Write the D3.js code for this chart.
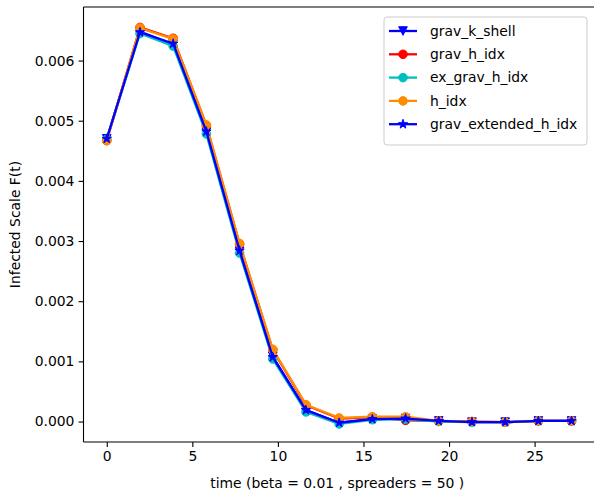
<!DOCTYPE html>
<html>
<head>
<meta charset="utf-8">
<script src="https://cdn.jsdelivr.net/npm/d3@7"></script>
<style>
  html, body { margin: 0; padding: 0; background: #ffffff; }
  svg { display: block; }
  text { font-family: "DejaVu Sans", sans-serif; fill: #000; }
</style>
</head>
<body>
<svg id="chart" width="594" height="495"></svg>
<script>
// Simulation time steps
const times = [0, 1.94, 3.88, 5.82, 7.76, 9.70, 11.64, 13.58, 15.52, 17.46, 19.40, 21.34, 23.28, 25.22, 27.16];

// Infected scale F(t) per ranking method
const gravKShell        = [0.00470, 0.00648, 0.00627, 0.00481, 0.00283, 0.00108, 0.00019, -0.00002, 0.00004, 0.00005, 0.00001, -0.00001, -0.00001, 0.00001, 0.00001];
const gravHIdx          = [0.00467, 0.00655, 0.00637, 0.00492, 0.00295, 0.00119, 0.00027, 0.00005, 0.00007, 0.00002, 0.00001, 0.00000, -0.00001, 0.00001, 0.00001];
const exGravHIdx        = [0.00469, 0.00645, 0.00624, 0.00478, 0.00280, 0.00104, 0.00016, -0.00004, 0.00003, 0.00004, 0.00000, -0.00001, -0.00001, 0.00001, 0.00001];
const hIdx              = [0.00467, 0.00654, 0.00636, 0.00493, 0.00296, 0.00120, 0.00028, 0.00006, 0.00008, 0.00008, 0.00001, 0.00000, -0.00001, 0.00001, 0.00001];
const gravExtendedHIdx  = [0.00470, 0.00647, 0.00628, 0.00482, 0.00284, 0.00107, 0.00019, -0.00002, 0.00004, 0.00005, 0.00001, -0.00001, -0.00001, 0.00001, 0.00001];

const seriesNames = ["grav_k_shell", "grav_h_idx", "ex_grav_h_idx", "h_idx", "grav_extended_h_idx"];
const seriesValues = [gravKShell, gravHIdx, exGravHIdx, hIdx, gravExtendedHIdx];

// Axis ticks and limits
const xTicks = [0, 5, 10, 15, 20, 25];
const yTicks = [0, 0.001, 0.002, 0.003, 0.004, 0.005, 0.006];
const xLimits = [-1.36, 28.53];
const yLimits = [-0.00034, 0.00689];

const xLabel = "time (beta = 0.01 , spreaders = 50 )";
const yLabel = "Infected Scale F(t)";

// Styling
const colors = ["#0000ff", "#ff0000", "#00bfbf", "#ff8c00", "#0000ff"];
const markers = ["triangleDown", "circle", "circle", "circle", "star"];

const svg = d3.select("#chart");
const plot = { left: 83.5, right: 595, top: 7, bottom: 442 };
const fontSize = 13.9;
const lineWidth = 2.3;

const x = d3.scaleLinear().domain(xLimits).range([plot.left, plot.right]);
const y = d3.scaleLinear().domain(yLimits).range([plot.bottom, plot.top]);

// Marker shapes
const triangleDown = {
  draw(ctx, size) {
    const r = Math.sqrt(size) / 2;
    ctx.moveTo(0, r);
    ctx.lineTo(-r, -r);
    ctx.lineTo(r, -r);
    ctx.closePath();
  }
};
function markerPath(kind) {
  if (kind === "circle") return d3.symbol().type(d3.symbolCircle).size(Math.PI * 4.3 * 4.3)();
  if (kind === "star") return d3.symbol().type(d3.symbolStar).size(27)();
  return d3.symbol().type(triangleDown).size(8.6 * 8.6)();
}

// Axes
const xAxis = d3.axisBottom(x).tickValues(xTicks).tickFormat(d3.format("d")).tickSizeOuter(0).tickSize(4.9).tickPadding(4.2);
const yAxis = d3.axisLeft(y).tickValues(yTicks).tickFormat(d3.format(".3f")).tickSizeOuter(0).tickSize(4.9).tickPadding(4.2);

const gx = svg.append("g").attr("transform", `translate(0,${plot.bottom})`).call(xAxis);
const gy = svg.append("g").attr("transform", `translate(${plot.left},0)`).call(yAxis);
[gx, gy].forEach(g => {
  g.select(".domain").remove();
  g.selectAll(".tick line").attr("stroke", "#000").attr("stroke-width", 1.1);
  g.selectAll(".tick text").attr("font-size", fontSize).attr("font-family", "DejaVu Sans").attr("fill", "#000");
});

// Series: line then markers, drawn in order
const line = d3.line().x((d, i) => x(times[i])).y(d => y(d));

const seriesLayer = svg.append("g");
seriesValues.forEach((vals, s) => {
  const g = seriesLayer.append("g");
  g.append("path").datum(vals)
    .attr("d", line)
    .attr("fill", "none")
    .attr("stroke", colors[s])
    .attr("stroke-width", lineWidth)
    .attr("stroke-linejoin", "round")
    .attr("stroke-linecap", "square");
  const mp = markerPath(markers[s]);
  g.selectAll("path.m").data(vals).enter().append("path")
    .attr("class", "m")
    .attr("d", mp)
    .attr("transform", (d, i) => `translate(${x(times[i])},${y(d)})`)
    .attr("fill", colors[s])
    .attr("stroke", colors[s])
    .attr("stroke-width", 1);
});

// Spines
const spine = svg.append("g").attr("stroke", "#000").attr("stroke-width", 1.1).attr("fill", "none");
spine.append("line").attr("x1", plot.left).attr("x2", plot.left).attr("y1", plot.top).attr("y2", plot.bottom);
spine.append("line").attr("x1", plot.left).attr("x2", plot.right).attr("y1", plot.bottom).attr("y2", plot.bottom);
spine.append("line").attr("x1", plot.left).attr("x2", plot.right).attr("y1", plot.top).attr("y2", plot.top);
spine.append("line").attr("x1", plot.right).attr("x2", plot.right).attr("y1", plot.top).attr("y2", plot.bottom);

// Axis labels
svg.append("text")
  .attr("x", (plot.left + plot.right) / 2 - 2)
  .attr("y", 488)
  .attr("text-anchor", "middle")
  .attr("font-size", fontSize)
  .text(xLabel);

svg.append("text")
  .attr("transform", `translate(20,${(plot.top + plot.bottom) / 2}) rotate(-90)`)
  .attr("text-anchor", "middle")
  .attr("font-size", fontSize)
  .text(yLabel);

// Legend
const legend = { x: 384, y: 17, w: 203, h: 128, rowY0: 31, rowStep: 23.3 };
const lg = svg.append("g");
lg.append("rect")
  .attr("x", legend.x).attr("y", legend.y)
  .attr("width", legend.w).attr("height", legend.h)
  .attr("rx", 3).attr("ry", 3)
  .attr("fill", "#ffffff").attr("fill-opacity", 0.8)
  .attr("stroke", "#cccccc").attr("stroke-width", 1);

seriesNames.forEach((name, s) => {
  const cy = legend.rowY0 + s * legend.rowStep;
  lg.append("line")
    .attr("x1", 389).attr("x2", 417).attr("y1", cy).attr("y2", cy)
    .attr("stroke", colors[s]).attr("stroke-width", lineWidth);
  lg.append("path")
    .attr("d", markerPath(markers[s]))
    .attr("transform", `translate(403,${cy})`)
    .attr("fill", colors[s]).attr("stroke", colors[s]).attr("stroke-width", 1);
  lg.append("text")
    .attr("x", 430).attr("y", cy)
    .attr("dy", "0.35em")
    .attr("font-size", fontSize)
    .text(name);
});
</script>
</body>
</html>
